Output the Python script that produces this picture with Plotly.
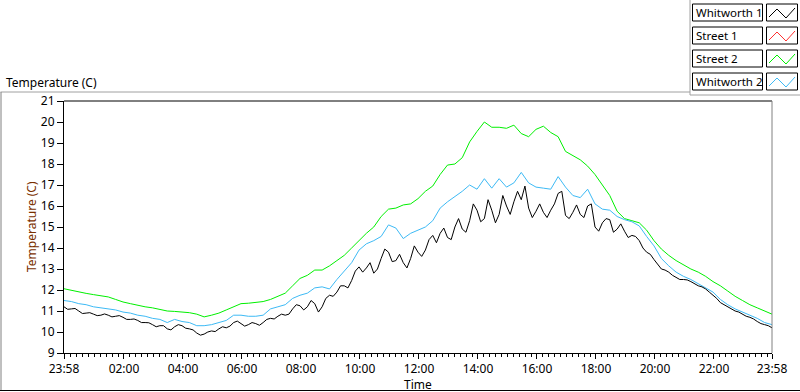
import plotly.graph_objects as go
import pandas as pd

# ---------------- data ----------------
series_names = ["Whitworth 1", "Street 1", "Street 2", "Whitworth 2"]
series_colors = ["#000000", "#ff3030", "#00f000", "#3dbaf5"]

start_time = "2014-01-01 23:58"
end_time = "2014-01-02 23:58"

# Street 2 (green), every 15 min
street2 = [12.06, 11.98, 11.9, 11.84, 11.78, 11.74, 11.67, 11.55, 11.43, 11.35,
           11.27, 11.2, 11.15, 11.08, 11.0, 10.98, 10.95, 10.92, 10.85, 10.72,
           10.8, 10.9, 11.05, 11.2, 11.35, 11.37, 11.4, 11.45, 11.55, 11.7,
           11.85, 12.2, 12.55, 12.7, 12.95, 12.95, 13.15, 13.4, 13.65, 14.0,
           14.35, 14.7, 15.0, 15.5, 15.85, 15.9, 16.05, 16.1, 16.35, 16.7,
           16.95, 17.5, 17.95, 18.0, 18.3, 19.05, 19.55, 20.0, 19.75, 19.75,
           19.7, 19.85, 19.45, 19.3, 19.65, 19.8, 19.5, 19.3, 18.6, 18.4,
           18.2, 17.9, 17.5, 17.0, 16.5, 15.75, 15.4, 15.3, 15.2, 14.85,
           14.35, 13.95, 13.65, 13.4, 13.2, 13.0, 12.85, 12.65, 12.4, 12.2,
           11.95, 11.7, 11.5, 11.3, 11.15, 11.0, 10.85]

# Whitworth 2 (light blue), every 15 min
whitworth2 = [11.5, 11.45, 11.35, 11.3, 11.2, 11.15, 11.1, 11.05, 10.95, 10.9,
              10.8, 10.75, 10.65, 10.6, 10.45, 10.6, 10.5, 10.45, 10.3, 10.3,
              10.35, 10.45, 10.55, 10.8, 10.8, 10.75, 10.75, 10.8, 11.1, 11.2,
              11.3, 11.6, 11.75, 11.85, 12.1, 12.15, 12.05, 12.5, 12.9, 13.3,
              13.9, 14.2, 14.35, 14.55, 15.1, 14.95, 14.45, 14.7, 14.85, 15.0,
              15.3, 15.9, 16.2, 16.45, 16.7, 17.0, 16.8, 17.3, 16.85, 17.3,
              16.9, 17.1, 17.6, 17.1, 16.9, 16.85, 16.8, 17.4, 16.9, 16.5,
              16.4, 16.8, 16.1, 15.85, 15.8, 15.5, 15.35, 15.25, 15.05, 14.55,
              14.1, 13.5, 13.15, 12.85, 12.65, 12.5, 12.3, 12.1, 11.9, 11.55,
              11.3, 11.1, 10.95, 10.8, 10.65, 10.45, 10.35]

# Whitworth 1 (black), every 7.5 min
whitworth1 = [11.2, 11.08, 11.1, 11.12, 11.0, 10.88, 10.9, 10.92, 10.85, 10.78,
              10.8, 10.86, 10.8, 10.72, 10.75, 10.78, 10.7, 10.6, 10.6, 10.62,
              10.55, 10.45, 10.45, 10.44, 10.35, 10.25, 10.3, 10.3, 10.15, 10.1,
              10.25, 10.35, 10.3, 10.18, 10.15, 10.1, 9.95, 9.85, 9.9, 10.0,
              10.05, 10.02, 10.15, 10.25, 10.2, 10.28, 10.45, 10.52, 10.4, 10.28,
              10.35, 10.45, 10.4, 10.32, 10.45, 10.6, 10.65, 10.62, 10.75, 10.85,
              10.8, 10.85, 11.1, 11.3, 11.25, 11.05, 11.2, 11.5, 11.35, 10.95,
              11.2, 11.6, 11.75, 11.7, 11.9, 12.2, 12.2, 12.1, 12.45, 12.9,
              13.1, 12.85, 13.05, 13.3, 12.8, 13.0, 13.5, 13.95, 13.8, 13.35,
              13.4, 13.7, 13.3, 13.05, 13.5, 14.1, 13.8, 13.6, 13.9, 14.4,
              14.6, 14.25, 14.7, 14.95, 14.5, 14.4, 15.0, 15.4, 14.9, 14.75,
              15.3, 16.1, 15.8, 15.25, 15.4, 16.3, 15.8, 15.2, 15.6, 16.5,
              16.0, 15.6, 16.2, 16.7, 16.3, 16.95, 15.9, 15.45, 15.75, 16.1,
              15.7, 15.45, 15.8, 16.1, 16.6, 16.7, 15.55, 15.4, 15.7, 16.05,
              15.6, 15.45, 16.0, 16.1, 15.0, 14.8, 15.2, 15.4, 15.35, 14.75,
              14.9, 15.15, 14.8, 14.5, 14.6, 14.55, 14.35, 14.0, 13.8, 13.7,
              13.45, 13.2, 13.0, 12.95, 12.85, 12.7, 12.6, 12.5, 12.5, 12.48,
              12.4, 12.28, 12.2, 12.15, 12.05, 11.9, 11.75, 11.6, 11.4, 11.3,
              11.2, 11.08, 11.0, 10.95, 10.85, 10.75, 10.7, 10.62, 10.5, 10.4,
              10.35, 10.3, 10.2]

# Street 1 (red) has no visible data in the chart
street1 = []

x_tick_vals = ["2014-01-01 23:58", "2014-01-02 02:00", "2014-01-02 04:00",
               "2014-01-02 06:00", "2014-01-02 08:00", "2014-01-02 10:00",
               "2014-01-02 12:00", "2014-01-02 14:00", "2014-01-02 16:00",
               "2014-01-02 18:00", "2014-01-02 20:00", "2014-01-02 22:00",
               "2014-01-02 23:58"]
x_tick_text = ["23:58", "02:00", "04:00", "06:00", "08:00", "10:00", "12:00",
               "14:00", "16:00", "18:00", "20:00", "22:00", "23:58"]
y_ticks = list(range(9, 22))

t15 = pd.date_range(start_time, end_time, freq="15min")
t7 = pd.date_range(start_time, end_time, freq="450s")

# ---------------- figure ----------------
W, H = 800, 392
L, R, T, B = 64, 28, 101, 39
PW, PH = W - L - R, H - T - B


def px(x):
    return (x - L) / PW


def py(y):
    return (H - B - y) / PH


FONT = "Noto Sans"

fig = go.Figure()
fig.add_trace(go.Scatter(x=[], y=street1, mode="lines", name=series_names[1],
                         line=dict(color=series_colors[1], width=1)))
fig.add_trace(go.Scatter(x=t15, y=street2, mode="lines", name=series_names[2],
                         line=dict(color=series_colors[2], width=1)))
fig.add_trace(go.Scatter(x=t15, y=whitworth2, mode="lines", name=series_names[3],
                         line=dict(color=series_colors[3], width=1)))
fig.add_trace(go.Scatter(x=t7, y=whitworth1, mode="lines", name=series_names[0],
                         line=dict(color=series_colors[0], width=1)))

shapes = []


def line(x0, y0, x1, y1, color, width=1):
    shapes.append(dict(type="line", xref="paper", yref="paper",
                       x0=px(x0), y0=py(y0), x1=px(x1), y1=py(y1),
                       line=dict(color=color, width=width), layer="above"))


# plot area borders
line(64, 101, 772, 101, "#000000")
line(772, 101, 772, 353, "#808080")
# outer frame
line(0.5, 92, 690, 92, "#a0a0a0")
line(1, 92, 1, 390, "#808080")
line(0, 390.5, 800, 390.5, "#000000")
line(690, 0, 690, 95, "#a0a0a0")
line(690, 95, 800, 95, "#a0a0a0")

annotations = []
# legend
for i, (name, col) in enumerate(zip(series_names, series_colors)):
    top = 4 + 23 * i
    bot = top + 17
    shapes.append(dict(type="rect", xref="paper", yref="paper",
                       x0=px(692.5), x1=px(762.5), y0=py(bot), y1=py(top),
                       line=dict(color="#000000", width=1), fillcolor="white"))
    shapes.append(dict(type="rect", xref="paper", yref="paper",
                       x0=px(766.5), x1=px(797.5), y0=py(bot), y1=py(top),
                       line=dict(color="#000000", width=1), fillcolor="white"))
    pts = [(769, top + 13), (777, top + 5), (786, top + 14), (795, top + 4)]
    path = "M " + " L ".join(f"{px(a)},{py(b)}" for a, b in pts)
    shapes.append(dict(type="path", xref="paper", yref="paper", path=path,
                       line=dict(color=col, width=1)))
    annotations.append(dict(text=name, xref="paper", yref="paper",
                            x=px(694), y=py(top + 8.5), xanchor="left",
                            yanchor="middle", showarrow=False,
                            font=dict(family=FONT, size=11.5, color="#000000")))

annotations.append(dict(text="Temperature (C)", xref="paper", yref="paper",
                        x=px(4), y=py(82), xanchor="left", yanchor="middle",
                        showarrow=False,
                        font=dict(family=FONT, size=12, color="#000000")))
annotations.append(dict(text="Temperature (C)", xref="paper", yref="paper",
                        x=px(31), y=py(227), xanchor="center", yanchor="middle",
                        textangle=-90, showarrow=False,
                        font=dict(family=FONT, size=12, color="#7a3000")))
annotations.append(dict(text="Time", xref="paper", yref="paper",
                        x=px(418), y=py(384), xanchor="center", yanchor="middle",
                        showarrow=False,
                        font=dict(family=FONT, size=12, color="#000000")))

fig.update_layout(
    width=W, height=H,
    margin=dict(l=L, r=R, t=T, b=B, pad=0),
    paper_bgcolor="white", plot_bgcolor="white",
    showlegend=False,
    shapes=shapes, annotations=annotations,
    font=dict(family=FONT, size=12, color="#000000"),
    xaxis=dict(type="date", range=[start_time, end_time],
               tickvals=x_tick_vals, ticktext=x_tick_text,
               showgrid=False, zeroline=False,
               showline=True, linecolor="#000000", linewidth=1,
               ticks="outside", ticklen=5, tickcolor="#000000", tickwidth=1,
               tickfont=dict(family=FONT, size=12, color="#000000"),
               minor=dict(ticks="outside", ticklen=3, tickcolor="#000000",
                          dtick=720000, tick0="2014-01-02 00:00",
                          showgrid=False)),
    yaxis=dict(range=[9, 21], tickvals=y_ticks,
               showgrid=False, zeroline=False,
               showline=True, linecolor="#000000", linewidth=1,
               ticks="outside", ticklen=6, tickcolor="#000000", tickwidth=1,
               tickfont=dict(family=FONT, size=12, color="#000000")),
)

fig.write_html("out.html",
               config={"displayModeBar": False},
               post_script="document.body.style.margin='0';"
                           "document.body.style.padding='0';")
